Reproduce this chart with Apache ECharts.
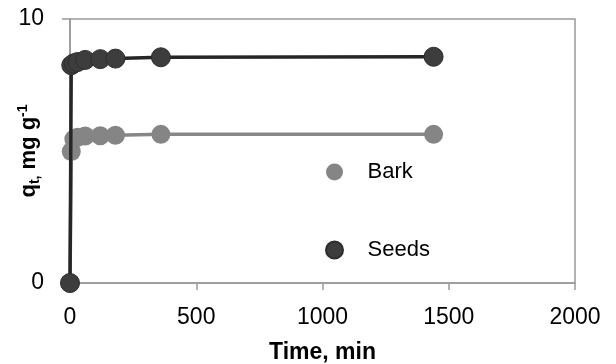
<!DOCTYPE html>
<html>
<head>
<meta charset="utf-8">
<script src="https://cdn.jsdelivr.net/npm/echarts@6/dist/echarts.min.js"></script>
<style>html,body{margin:0;padding:0;background:#fff}#c{width:616px;height:364px}</style>
</head>
<body>
<div id="c"></div>
<script>
var timeMin = [0, 5, 15, 30, 60, 120, 180, 360, 1440];
var barkQt = [0, 4.98, 5.45, 5.52, 5.57, 5.58, 5.6, 5.63, 5.63];
var seedsQt = [0, 8.25, 8.32, 8.37, 8.45, 8.48, 8.5, 8.55, 8.57];
var seriesNames = ['Bark', 'Seeds'];
var xTicks = [0, 500, 1000, 1500, 2000];
var yTicks = [0, 10];

function pairs(xs, ys) { return xs.map(function (x, i) { return [x, ys[i]]; }); }

var FONT = 'Liberation Sans';
var AX = '#999999';
var chart = echarts.init(document.getElementById('c'), null, {renderer: 'canvas'});
chart.setOption({
  animation: false,
  backgroundColor: '#ffffff',
  grid: {left: 70, right: 41, top: 19, bottom: 81, show: true, borderColor: AX, borderWidth: 1.5, containLabel: false, outerBoundsMode: 'none'},
  xAxis: {
    type: 'value', min: xTicks[0], max: xTicks[xTicks.length - 1], interval: 500,
    name: 'Time, min', nameLocation: 'middle', nameGap: 58, nameMoveOverlap: false,
    nameTextStyle: {fontFamily: FONT, fontSize: 23, fontWeight: 'bold', color: '#000'},
    axisLine: {show: true, onZero: false, lineStyle: {color: AX, width: 1.5}},
    axisTick: {show: true, inside: false, length: 7, lineStyle: {color: AX, width: 1.5}},
    axisLabel: {fontFamily: FONT, fontSize: 23, color: '#000', margin: 23, formatter: function (v) { return String(v); }},
    splitLine: {show: false}
  },
  yAxis: {
    type: 'value', min: yTicks[0], max: yTicks[yTicks.length - 1], interval: 10,
    name: '{b|q}{sub|t,}{b| mg g}{sup|-1}', nameLocation: 'middle', nameGap: 28, nameRotate: 90, nameMoveOverlap: false,
    nameTextStyle: {
      fontFamily: FONT, fontSize: 22, fontWeight: 'bold', color: '#000',
      rich: {
        b: {fontFamily: FONT, fontSize: 22, fontWeight: 'bold', color: '#000', lineHeight: 26},
        sub: {fontFamily: FONT, fontSize: 14, fontWeight: 'bold', color: '#000', lineHeight: 14, verticalAlign: 'bottom'},
        sup: {fontFamily: FONT, fontSize: 14, fontWeight: 'bold', color: '#000', lineHeight: 14, verticalAlign: 'top'}
      }
    },
    axisLine: {show: true, lineStyle: {color: AX, width: 1.5}},
    axisTick: {show: true, inside: false, length: 8, lineStyle: {color: AX, width: 1.5}},
    axisLabel: {fontFamily: FONT, fontSize: 23, color: '#000', margin: 26, formatter: function (v) { return String(v); }},
    splitLine: {show: false}
  },
  legend: {
    orient: 'vertical', left: 320, top: 156, itemGap: 56,
    itemWidth: 56, itemHeight: 17, icon: 'circle',
    textStyle: {fontFamily: FONT, fontSize: 22, color: '#000', lineHeight: 22},
    data: seriesNames
  },
  series: [
    {
      name: seriesNames[0], type: 'line', data: pairs(timeMin, barkQt),
      symbol: 'circle', symbolSize: 19, z: 2,
      itemStyle: {color: '#858585'},
      lineStyle: {color: '#878787', width: 3.5}
    },
    {
      name: seriesNames[1], type: 'line', data: pairs(timeMin, seedsQt),
      symbol: 'circle', symbolSize: 19, z: 3,
      itemStyle: {color: '#3d3d3d', borderColor: '#2e2e2e', borderWidth: 1},
      lineStyle: {color: '#262626', width: 3.5}
    }
  ]
});
</script>
</body>
</html>
